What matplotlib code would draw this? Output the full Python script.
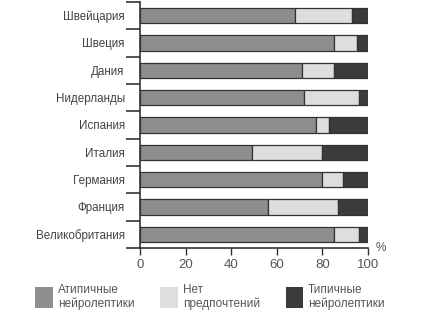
import numpy as np
import matplotlib
matplotlib.use("Agg")
import matplotlib.pyplot as plt
from matplotlib.patches import Patch

plt.rcParams['font.family'] = ['Liberation Sans', 'DejaVu Sans']

countries = ['Швейцария', 'Швеция', 'Дания', 'Нидерланды', 'Испания',
             'Италия', 'Германия', 'Франция', 'Великобритания']
# доли, %
atypical = [68, 85, 71, 72, 77, 49, 80, 56, 85]
no_pref = [25, 10, 14, 24, 6, 31, 9, 31, 11]
typical = [7, 5, 15, 4, 17, 20, 11, 13, 4]
series_names = ['Атипичные\nнейролептики', 'Нет\nпредпочтений', 'Типичные\nнейролептики']
colors = ['#8e8e8e', '#dedede', '#3b3b3b']
xticks = [0, 20, 40, 60, 80, 100]

fig = plt.figure(figsize=(4.24, 3.15), dpi=100)
ax = fig.add_axes([0.330, 0.213, 0.538, 0.781])

y = np.arange(len(countries))
left = np.zeros(len(countries))
for vals, c in zip([atypical, no_pref, typical], colors):
    ax.barh(y, vals, left=left, height=0.56, color=c, edgecolor='#333333', linewidth=0.9)
    left += np.array(vals)

ax.set_ylim(len(countries) - 0.5, -0.5)
ax.set_xlim(0, 100)
ax.set_yticks(y)
ax.set_yticklabels(countries, fontsize=8.4, color='#444444')
ax.set_yticks(np.arange(-0.5, len(countries), 1), minor=True)
ax.tick_params(axis='y', which='major', length=0, pad=11)
ax.tick_params(axis='y', which='minor', length=10, width=1.2, color='#333333')
ax.set_xticks(xticks)
ax.set_xticklabels([str(t) for t in xticks], fontsize=9.5, color='#555555')
ax.tick_params(axis='x', length=5, width=1.0, color='#333333', pad=3)
for s in ['top', 'right']:
    ax.spines[s].set_visible(False)
for s in ['left', 'bottom']:
    ax.spines[s].set_linewidth(1.2)
    ax.spines[s].set_color('#333333')

ax.text(1.055, 0.0, '%', transform=ax.transAxes, fontsize=8.5, color='#555555',
        ha='center', va='center')

handles = [Patch(facecolor=c, edgecolor='none') for c in colors]
fig.legend(handles, series_names, loc='lower left', bbox_to_anchor=(0.058, -0.018),
           ncol=3, frameon=False, fontsize=8.5, handlelength=1.5, handleheight=2.3,
           handletextpad=0.4, columnspacing=2.2, labelcolor='#555555')

fig.savefig('out.png', dpi=100)
